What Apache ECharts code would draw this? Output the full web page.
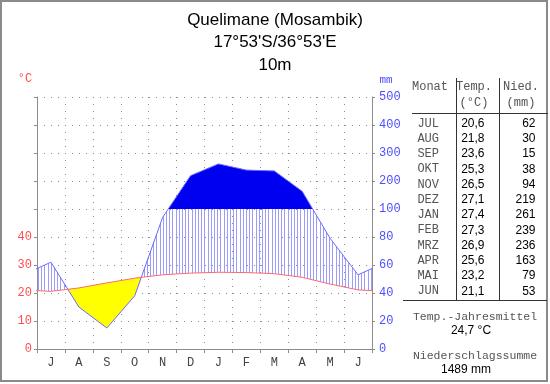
<!DOCTYPE html>
<html><head><meta charset="utf-8">
<script src="https://cdn.jsdelivr.net/npm/echarts@6/dist/echarts.min.js"></script>
<style>html,body{margin:0;padding:0;background:#fff}#c{width:550px;height:384px}</style>
</head><body><div id="c"></div>
<script>
// ---- data ----
const months = ['J','A','S','O','N','D','J','F','M','A','M','J'];
const tableMonths = ['JUL','AUG','SEP','OKT','NOV','DEZ','JAN','FEB','MRZ','APR','MAI','JUN'];
const temps = [20.6,21.8,23.6,25.3,26.5,27.1,27.4,27.3,26.9,25.6,23.2,21.1];
const precip = [62,30,15,38,94,219,261,239,236,163,79,53];
const tempTickLabels = ['0','10','20','30','40'];
const precipTickLabels = ['0','20','40','60','80','100','200','300','400','500'];
const titleLines = ['Quelimane (Mosambik)', "17°53'S/36°53'E", '10m'];
const tableHeader = ['Monat','Temp.','(°C)','Nied.','(mm)'];
const footerLabels = ['Temp.-Jahresmittel','Niederschlagssumme'];

// Walter-Lieth precipitation scaling (to °C units)
function scaleP(p){ return p <= 100 ? p/2 : 50 + (p-100)/10; }
const n = temps.length;
// cyclic repetition of the real monthly values so the lines run to both edges (clipped)
const ext = [];
for (let i = -1; i <= n; i++) { const k = (i + n) % n; ext.push({x: i + 0.5, t: temps[k], p: scaleP(precip[k])}); }

const fmt1 = v => v.toFixed(1).replace('.', ',');
const meanT = temps.reduce((a,b)=>a+b,0)/n;
const sumP = precip.reduce((a,b)=>a+b,0);

const MONO = '"Liberation Mono", "DejaVu Sans Mono", monospace';
const SANS = '"Liberation Sans", Arial, sans-serif';

function renderItem(params, api){
  const children = [];
  const pts = [ext[0]];
  for (let i = 0; i < ext.length - 1; i++) {
    const a = ext[i], b = ext[i+1];
    const cuts = [];
    const d0 = a.p - a.t, d1 = b.p - b.t;
    if (d0 * d1 < 0) cuts.push(d0 / (d0 - d1));
    const e0 = a.p - 50, e1 = b.p - 50;
    if (e0 * e1 < 0) cuts.push(e0 / (e0 - e1));
    cuts.sort((u,v)=>u-v);
    cuts.forEach(f => pts.push({x: a.x + (b.x-a.x)*f, t: a.t + (b.t-a.t)*f, p: a.p + (b.p-a.p)*f}));
    pts.push(b);
  }
  function runs(pred){
    const out = []; let cur = null;
    for (let j = 0; j < pts.length - 1; j++) {
      const a = pts[j], b = pts[j+1];
      const mid = {t:(a.t+b.t)/2, p:(a.p+b.p)/2};
      if (pred(mid)) { if (!cur) { cur = [a]; out.push(cur); } cur.push(b); }
      else cur = null;
    }
    return out;
  }
  runs(m => m.p < m.t).forEach(r => {
    const poly = r.map(q => api.coord([q.x, q.t])).concat(r.slice().reverse().map(q => api.coord([q.x, q.p])));
    children.push({type:'polygon', shape:{points:poly}, style:{fill:'#ffff00', stroke:null}});
  });
  runs(m => m.p > 50).forEach(r => {
    const poly = r.map(q => api.coord([q.x, q.p])).concat(r.slice().reverse().map(q => api.coord([q.x, 50])));
    children.push({type:'polygon', shape:{points:poly}, style:{fill:'#0000f0', stroke:null}});
  });
  const px0 = api.coord([0,0])[0], px1 = api.coord([n,0])[0];
  const step = 3.2;
  for (let px = px0 + 1; px < px1; px += step) {
    const sx = Math.round(px) + 0.5;
    const dx = (sx - px0) / (px1 - px0) * n;
    let k = 0; while (k < ext.length - 2 && ext[k+1].x < dx) k++;
    const a = ext[k], b = ext[k+1];
    const f = (dx - a.x) / (b.x - a.x);
    const t = a.t + (b.t - a.t)*f, p = a.p + (b.p - a.p)*f;
    if (p > t) {
      const y0 = api.coord([dx, t])[1], y1 = api.coord([dx, Math.min(p, 50)])[1];
      children.push({type:'line', shape:{x1:sx, y1:y0, x2:sx, y2:y1}, style:{stroke:'#9c9cff', lineWidth:1}});
    }
  }
  return {type:'group', children};
}

// ---- table graphics ----
const g = [];
g.push({type:'rect', shape:{x:1, y:1, width:546, height:380}, style:{fill:null, stroke:'#8a8a8a', lineWidth:2}, silent:true});
const txt = (text, x, y, opt) => g.push({type:'text', x, y, style:Object.assign({text, textAlign:'center', textVerticalAlign:'middle', fontSize:12, fontFamily:MONO, fill:'#555'}, opt||{}), silent:true});
txt('°C', 25, 79, {fill:'#ff4d4d', fontSize:12});
txt('mm', 386, 80, {fill:'#4d4dff', fontSize:11});
txt(tableHeader[0], 430, 87);
txt(tableHeader[1], 474, 87);
txt(tableHeader[2], 474, 103);
txt(tableHeader[3], 521, 87);
txt(tableHeader[4], 521, 103);
const line = (x1,y1,x2,y2) => g.push({type:'line', shape:{x1,y1,x2,y2}, style:{stroke:'#333', lineWidth:1}, silent:true});
line(456.5, 78, 456.5, 300);
line(499.5, 78, 499.5, 300);
line(412, 113.5, 548, 113.5);
line(403, 300.5, 547, 300.5);
tableMonths.forEach((m, i) => {
  const y = 123.5 + i * 15.25;
  txt(m, 439, y, {textAlign:'right'});
  txt(fmt1(temps[i]), 484.5, y, {textAlign:'right', fontFamily:SANS, fill:'#000'});
  txt(String(precip[i]), 535.5, y, {textAlign:'right', fontFamily:SANS, fill:'#000'});
});
txt(footerLabels[0], 475, 317, {fontSize:11.5});
txt(fmt1(meanT) + ' °C', 471, 331, {fontFamily:SANS, fill:'#000'});
txt(footerLabels[1], 475, 355.5, {fontSize:11.5});
txt(sumP + ' mm', 466, 369.5, {fontFamily:SANS, fill:'#000'});

const dotted = {show:true, lineStyle:{color:'#8c8c8c', type:[1,6], width:1}};
const axLine = {show:true, lineStyle:{color:'#8c8c8c', width:1}};

const option = {
  animation: false,
  backgroundColor: '#fff',
  title: {
    text: titleLines.join('\n'), left: 'center', top: 4,
    textStyle: {fontSize:17, fontWeight:'normal', fontFamily:SANS, color:'#000', lineHeight:22.5}
  },
  grid: {left:37, right:178, top:97, bottom:35, containLabel:false},
  xAxis: [
    {type:'value', min:0, max:n, interval:1, axisLine:axLine, axisTick:{show:true, length:4, lineStyle:{color:'#8c8c8c'}}, axisLabel:{show:false}, splitLine:dotted},
    {type:'category', data:months, position:'bottom', boundaryGap:true, axisLine:{show:false}, axisTick:{show:false}, splitLine:{show:false},
     axisLabel:{color:'#444', fontFamily:MONO, fontSize:12, margin:8}}
  ],
  yAxis: [
    {type:'value', min:0, max:90, interval:10, position:'left', axisLine:axLine, axisTick:{show:true, length:3, lineStyle:{color:'#8c8c8c'}}, splitLine:dotted,
     axisLabel:{color:'#ff4d4d', fontFamily:MONO, fontSize:12, margin:5, formatter:v => { const i = Math.round(v/10); return i < tempTickLabels.length ? tempTickLabels[i] : ''; }}},
    {type:'value', min:0, max:90, interval:10, position:'right', axisLine:axLine, axisTick:{show:true, length:3, lineStyle:{color:'#8c8c8c'}}, splitLine:{show:false},
     axisLabel:{color:'#4d4dff', fontFamily:MONO, fontSize:12, margin:7, formatter:v => precipTickLabels[Math.round(v/10)] || ''}}
  ],
  series: [
    {type:'custom', xAxisIndex:0, yAxisIndex:0, renderItem, data:[[0,0]], clip:true, silent:true, z:2},
    {type:'line', xAxisIndex:0, yAxisIndex:0, data:ext.map(e=>[e.x, e.p]), showSymbol:false, clip:true, silent:true, z:3,
     lineStyle:{color:'#6a6aff', width:1}},
    {type:'line', xAxisIndex:0, yAxisIndex:0, data:ext.map(e=>[e.x, e.t]), showSymbol:false, clip:true, silent:true, z:4,
     lineStyle:{color:'#ff6a6a', width:1}}
  ],
  graphic: g
};
const chart = echarts.init(document.getElementById('c'), null, {renderer:'canvas'});
chart.setOption(option);
</script></body></html>
